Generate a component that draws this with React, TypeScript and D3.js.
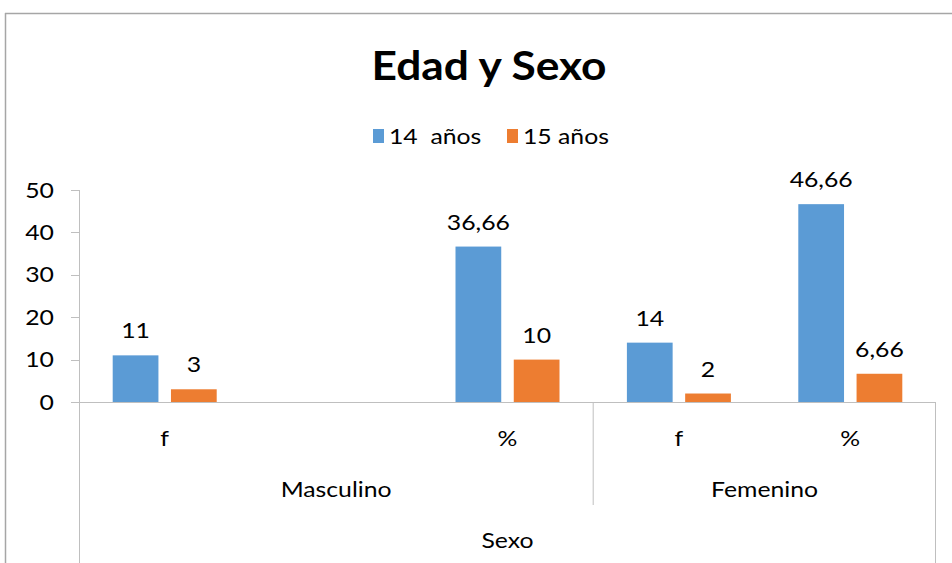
import React from "react";
import * as d3 from "d3";

const subLabels = ["f", "", "%", "f", "%"];
const groupNames = ["Masculino", "Femenino"];
const groupSpans = [3, 2];
const seriesNames = ["14  años", "15 años"];
const series14: (number | null)[] = [11, null, 36.66, 14, 46.66];
const series15: (number | null)[] = [3, null, 10, 2, 6.66];
const yTicks = [0, 10, 20, 30, 40, 50];
const colors = ["#5B9BD5", "#ED7D31"];

const W = 952, H = 563;
const FONT = "Lato, 'Open Sans', sans-serif";
const SX = 1.18;
const fmt = (v: number) => String(v).replace(".", ",");

function T({ x, y, children, anchor = "middle", size = 21, dy = "0", weight = "normal", sx = SX }: any) {
  return (
    <text transform={`translate(${x},${y}) scale(${sx},1)`} dy={dy} textAnchor={anchor} fontSize={size}
      fontWeight={weight} fill="#000" style={{ whiteSpace: "pre" }}>{children}</text>
  );
}

export default function App() {
  const x = d3.scaleBand<number>().domain(subLabels.map((_, i) => i)).range([79, 936]).padding(0);
  const y = d3.scaleLinear().domain([0, 50]).range([402, 190]);
  const inner = d3.scaleBand<string>().domain(["a", "b"]).paddingInner(0.215).paddingOuter(0);
  const allSeries = [series14, series15];
  const axisColor = "#BFBFBF";

  let acc = 0;
  const groups = groupNames.map((g, gi) => {
    const start = acc;
    acc += groupSpans[gi];
    const x0 = x(start)!;
    const x1 = x(acc - 1)! + x.bandwidth();
    return { name: g, x0, x1 };
  });

  return (
    <svg width={W} height={H} style={{ position: "absolute", left: 0, top: 0, background: "#fff" }}
      fontFamily={FONT}>
      <rect x={0} y={0} width={W} height={H} fill="#fff" />
      <line x1={5} y1={13.5} x2={W} y2={13.5} stroke="#A6A6A6" strokeWidth={1.5} />
      <line x1={5.5} y1={13} x2={5.5} y2={H} stroke="#A6A6A6" strokeWidth={1.5} />

      <T x={489} y={80} size={41} weight="bold" sx={1.08}>Edad y Sexo</T>

      <rect x={373} y={129} width={11} height={14} fill={colors[0]} />
      <T x={389} y={144} anchor="start">{seriesNames[0]}</T>
      <rect x={507} y={129} width={11} height={14} fill={colors[1]} />
      <T x={523} y={144} anchor="start">{seriesNames[1]}</T>

      <line x1={79.5} y1={y(50)} x2={79.5} y2={H} stroke={axisColor} />
      {yTicks.map((t) => (
        <g key={t}>
          <line x1={71} x2={79.5} y1={Math.round(y(t)) + 0.5} y2={Math.round(y(t)) + 0.5} stroke={axisColor} />
          <T x={54} y={y(t)} dy="0.36em" anchor="end">{t}</T>
        </g>
      ))}

      <line x1={71} x2={936} y1={402.5} y2={402.5} stroke={axisColor} />
      <line x1={groups[0].x1} x2={groups[0].x1} y1={402} y2={505} stroke={axisColor} />
      <line x1={935.5} x2={935.5} y1={402} y2={H} stroke={axisColor} />

      {subLabels.map((_, i) => {
        const cx = x(i)! + x.bandwidth() / 2;
        inner.range([cx - 52, cx + 52]);
        return allSeries.map((s, si) => {
          const v = s[i];
          if (v == null) return null;
          const bx = inner(si === 0 ? "a" : "b")!;
          const bw = inner.bandwidth();
          return (
            <g key={`${i}-${si}`}>
              <rect x={bx} y={y(v)} width={bw} height={y(0) - y(v)} fill={colors[si]} />
              <T x={bx + bw / 2} y={y(v) - 17}>{fmt(v)}</T>
            </g>
          );
        });
      })}

      {subLabels.map((l, i) => (
        <T key={i} x={x(i)! + x.bandwidth() / 2} y={438} dy="0.36em">{l}</T>
      ))}
      {groups.map((g) => (
        <T key={g.name} x={(g.x0 + g.x1) / 2} y={489} dy="0.36em">{g.name}</T>
      ))}
      <T x={(79 + 936) / 2} y={540} dy="0.36em">Sexo</T>
    </svg>
  );
}
